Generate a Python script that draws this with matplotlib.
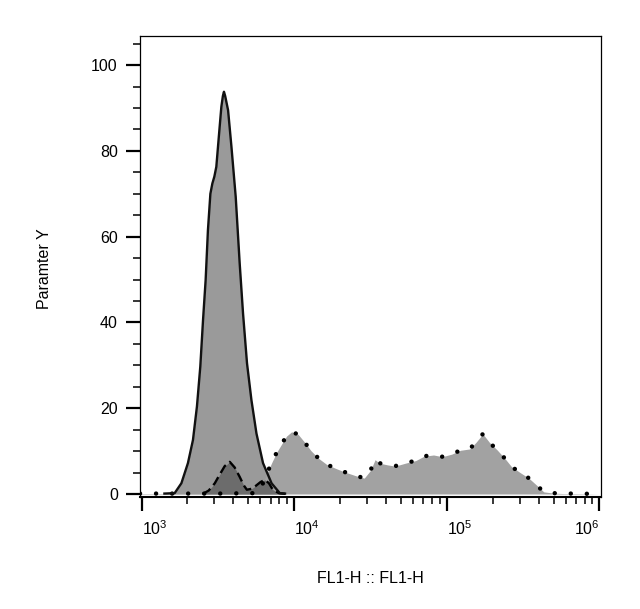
import matplotlib
matplotlib.use('Agg')
import matplotlib.pyplot as plt
import matplotlib.transforms as mtransforms
import numpy as np

plt.rcParams['font.family'] = ['Liberation Sans', 'DejaVu Sans']
plt.rcParams['mathtext.fontset'] = 'custom'
plt.rcParams['mathtext.rm'] = 'Liberation Sans'
plt.rcParams['mathtext.it'] = 'Liberation Sans'

# log10(FL1-H) positions and counts
big_log = [3.15, 3.217, 3.261, 3.304, 3.337, 3.363, 3.385, 3.403, 3.420,
           3.435, 3.451, 3.464, 3.477, 3.490, 3.508, 3.523, 3.533, 3.540,
           3.548, 3.567, 3.589, 3.617, 3.643, 3.665, 3.691, 3.720, 3.753,
           3.796, 3.852, 3.906, 3.94]
big_y = [0.1, 0.2, 2.5, 7.2, 12.6, 20.4, 29.7, 40.6, 49.9,
         61.5, 70, 72.4, 74, 76.3, 84, 90.3, 92.8, 93.8,
         92.8, 89.5, 81, 69.3, 53.8, 42.1, 30.5, 21.9, 14.1,
         7.2, 2.5, 0.2, 0.1]

dark_log = [3.40, 3.44, 3.48, 3.51, 3.545, 3.578, 3.61, 3.643, 3.67, 3.69,
            3.72, 3.745, 3.78, 3.808, 3.835, 3.86, 3.90, 3.95]
dark_y = [0, 0.8, 2.5, 4.4, 6.5, 7.5, 6.2, 4.0, 2.0, 1.0,
          1.2, 1.8, 2.8, 3.3, 2.5, 1.0, 0.2, 0]

pos_log = [2.99, 3.2, 3.5, 3.75, 3.78, 3.80, 3.83, 3.858, 3.89, 3.924, 3.95,
           3.983, 4.026, 4.07, 4.11, 4.16, 4.213, 4.27, 4.333, 4.40, 4.459,
           4.50, 4.53, 4.558, 4.61, 4.661, 4.73, 4.797, 4.85, 4.913, 4.97,
           5.033, 5.09, 5.149, 5.19, 5.236, 5.28, 5.329, 5.38, 5.423, 5.48,
           5.537, 5.59, 5.635, 5.70, 5.766, 5.85, 6.0]
pos_y = [0.1, 0.1, 0.1, 0.2, 1.0, 3.0, 5.5, 7.7, 10, 12, 13.5,
         14.5, 13.9, 12, 10.1, 8.3, 6.9, 6.0, 5.1, 4.3, 3.7,
         5.5, 8.0, 7.2, 6.8, 6.5, 7.2, 7.8, 8.8, 9.1, 8.7,
         9.3, 10.2, 10.5, 12, 14, 12, 10.3, 8.3, 6.4, 5.0,
         3.7, 2.0, 0.5, 0.2, 0.1, 0.1, 0]

big_x = 10 ** np.array(big_log)
dark_x = 10 ** np.array(dark_log)
pos_x = 10 ** np.array(pos_log)

fig = plt.figure(figsize=(6.4, 6.09), dpi=100)
ax = fig.add_axes([0.21875, 0.1839, 0.7203, 0.757])

ax.fill_between(big_x, big_y, color='#9a9a9a', lw=0, zorder=1)
ax.fill_between(pos_x, pos_y, color='#a2a2a2', lw=0, zorder=2)
ax.fill_between(dark_x, dark_y, color='#6c6c6c', lw=0, zorder=3)

ax.plot(pos_x, pos_y, color='black', lw=3.2, linestyle=(0, (0.01, 3.6)),
        dash_capstyle='round', zorder=4)
ax.plot(dark_x, dark_y, color='black', lw=1.7, linestyle=(0, (4, 2)), zorder=5)
ax.plot(big_x, big_y, color='#111111', lw=1.7, zorder=6,
        solid_joinstyle='round')

ax.set_xscale('log')
ax.set_xlim(10 ** 2.99, 10 ** 6.01)
ax.set_ylim(-0.7, 106.8)

ax.set_yticks([0, 20, 40, 60, 80, 100])
ax.set_yticks(np.arange(5, 106, 5), minor=True)
ax.set_xticks([1e3, 1e4, 1e5, 1e6])
ax.set_xticklabels(['$10^{3}$', '$10^{4}$', '$10^{5}$', '$10^{6}$'])
shifts = [8, 3, 3, 0]
for i, lab in enumerate(ax.get_xticklabels()):
    lab.set_ha('right' if i == 3 else 'left')
    lab.set_transform(lab.get_transform() +
                      mtransforms.ScaledTranslation(shifts[i] / 100, 0, fig.dpi_scale_trans))

ax.tick_params(axis='both', which='major', length=10, width=1.6, labelsize=11.5,
               direction='out', pad=6)
ax.tick_params(axis='both', which='minor', length=5, width=1.1, direction='out')
for s in ax.spines.values():
    s.set_linewidth(0.9)
ax.spines['bottom'].set_linewidth(1.5)

ax.set_xlabel('FL1-H :: FL1-H', fontsize=11.5, labelpad=24)
ax.set_ylabel('Paramter Y', fontsize=11.5)
ax.yaxis.set_label_coords(-0.19, 0.495)

fig.savefig('out.png', dpi=100)
